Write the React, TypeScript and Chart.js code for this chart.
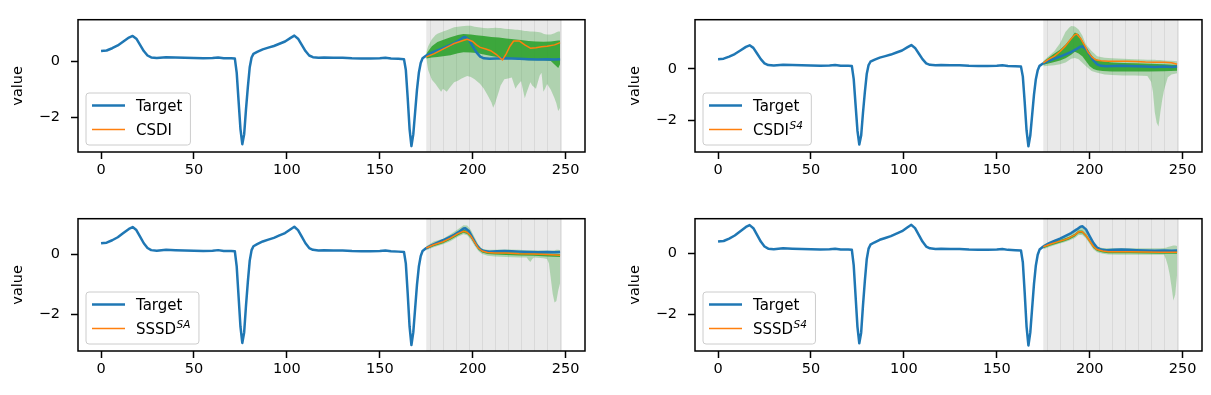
import React, { useEffect, useRef } from 'react';
import { Chart, registerables } from 'chart.js';

Chart.register(...registerables);
Chart.defaults.font.family = '"DejaVu Sans", sans-serif';
Chart.defaults.font.size = 14.5;
Chart.defaults.color = '#000';

// ---------- axes / tick data ----------
const X_TICKS = [0, 50, 100, 150, 200, 250];
const Y_TICKS = [-2, 0];
const SHADE_RANGE = [175, 248];
const SHADE_LINES = [177, 184, 191, 198, 205, 212, 219, 226, 233, 240, 247];

// ---------- target ECG (shared by all panels) ----------
const TARGET_X = [0, 3, 6, 9, 12, 15, 17, 19, 21, 23, 25, 27, 30, 35, 40, 45, 50, 55, 60, 63, 66, 70, 72, 73, 74, 75, 76, 77, 78, 79, 80, 81, 82, 84, 87, 90, 93, 96, 99, 102, 104, 106, 108, 110, 112, 114, 117, 120, 125, 130, 135, 140, 145, 150, 153, 156, 160, 163, 164, 165, 166, 167, 168, 169, 170, 171, 172, 173, 175, 178, 181, 184, 187, 190, 193, 195, 196, 198, 200, 202, 204, 206, 209, 213, 217, 221, 225, 230, 235, 240, 244, 247];
const TARGET_Y = [0.38, 0.4, 0.48, 0.58, 0.72, 0.86, 0.92, 0.82, 0.6, 0.38, 0.22, 0.15, 0.13, 0.16, 0.15, 0.14, 0.13, 0.12, 0.13, 0.15, 0.12, 0.12, 0.11, -0.4, -1.4, -2.4, -2.95, -2.6, -1.7, -0.9, -0.2, 0.15, 0.28, 0.35, 0.44, 0.5, 0.56, 0.64, 0.72, 0.85, 0.93, 0.82, 0.6, 0.38, 0.22, 0.16, 0.14, 0.15, 0.14, 0.14, 0.12, 0.11, 0.11, 0.12, 0.14, 0.11, 0.1, 0.09, -0.3, -1.3, -2.4, -3.02, -2.6, -1.8, -1.0, -0.4, -0.05, 0.12, 0.22, 0.32, 0.4, 0.48, 0.57, 0.66, 0.78, 0.87, 0.88, 0.78, 0.55, 0.33, 0.18, 0.12, 0.1, 0.11, 0.12, 0.11, 0.1, 0.09, 0.08, 0.09, 0.08, 0.09];

// ---------- CSDI (top-left) ----------
const CSDI_MED_X = [175, 179, 184, 188, 190, 194, 197, 200, 202, 204, 207, 210, 213, 216, 218, 220, 222, 225, 228, 231, 234, 237, 240, 244, 247];
const CSDI_MED_Y = [0.17, 0.28, 0.45, 0.58, 0.65, 0.74, 0.8, 0.72, 0.6, 0.51, 0.45, 0.38, 0.24, 0.06, 0.28, 0.55, 0.74, 0.74, 0.6, 0.48, 0.5, 0.53, 0.55, 0.6, 0.68];
const CSDI_IQR_X = [175, 178, 181, 185, 188, 192, 195, 199, 202, 206, 210, 214, 218, 222, 226, 230, 234, 238, 242, 244, 246, 247];
const CSDI_IQR_HI = [0.28, 0.55, 0.7, 0.8, 0.87, 0.95, 0.99, 0.97, 0.94, 0.92, 0.88, 0.86, 0.83, 0.8, 0.77, 0.74, 0.72, 0.71, 0.72, 0.74, 0.76, 0.76];
const CSDI_IQR_LO = [0.11, 0.15, 0.17, 0.2, 0.23, 0.3, 0.34, 0.33, 0.31, 0.26, 0.2, 0.16, 0.12, 0.1, 0.07, 0.05, 0.05, 0.05, 0.02, -0.1, -0.23, -0.08];
const CSDI_CI_X = [175, 176, 178, 180, 181, 183, 184, 186, 188, 190, 192, 194, 197, 199, 201, 204, 206, 208, 210, 211, 212, 214, 215, 217, 219, 221, 223, 224, 226, 228, 229, 231, 232, 234, 236, 237, 238, 239, 240, 242, 244, 245, 246, 247];
const CSDI_CI_HI = [0.34, 0.55, 0.8, 0.95, 1.0, 1.05, 1.08, 1.12, 1.18, 1.23, 1.25, 1.27, 1.28, 1.28, 1.25, 1.22, 1.2, 1.19, 1.2, 1.2, 1.21, 1.2, 1.2, 1.18, 1.17, 1.16, 1.14, 1.14, 1.12, 1.1, 1.1, 1.08, 1.08, 1.07, 1.05, 1.03, 1.0, 0.98, 0.97, 0.97, 1.02, 1.05, 1.08, 1.08];
const CSDI_CI_LO = [0.11, -0.3, -0.65, -0.8, -0.9, -1.08, -0.97, -1.08, -0.9, -0.74, -0.68, -0.6, -0.51, -0.55, -0.63, -0.8, -0.97, -1.2, -1.45, -1.65, -1.5, -1.08, -0.85, -0.63, -0.6, -0.57, -0.97, -0.85, -0.69, -1.31, -1.1, -0.74, -0.85, -0.97, -0.5, -0.4, -1.08, -0.95, -0.8, -1.0, -1.31, -1.5, -1.76, -1.65];

// ---------- CSDI^S4 (top-right) ----------
const CSDIS4_MED_X = [175, 178, 181, 184, 187, 190, 192, 193, 195, 197, 199, 201, 203, 206, 210, 215, 220, 225, 230, 235, 240, 244, 247];
const CSDIS4_MED_Y = [0.24, 0.38, 0.5, 0.68, 0.9, 1.18, 1.33, 1.36, 1.2, 0.95, 0.67, 0.48, 0.36, 0.32, 0.3, 0.3, 0.3, 0.29, 0.27, 0.26, 0.26, 0.24, 0.18];
const CSDIS4_IQR_X = [175, 180, 184, 187, 190, 192, 194, 196, 198, 200, 202, 204, 207, 212, 218, 225, 232, 240, 247];
const CSDIS4_IQR_HI = [0.28, 0.55, 0.75, 0.95, 1.22, 1.42, 1.35, 1.12, 0.85, 0.61, 0.45, 0.36, 0.3, 0.25, 0.23, 0.22, 0.2, 0.18, 0.15];
const CSDIS4_IQR_LO = [0.16, 0.25, 0.33, 0.42, 0.55, 0.67, 0.6, 0.49, 0.3, 0.1, 0.0, -0.05, -0.08, -0.1, -0.1, -0.1, -0.1, -0.09, -0.07];
const CSDIS4_CI_X = [175, 178, 181, 184, 187, 189, 190, 192, 194, 196, 198, 201, 204, 208, 212, 218, 224, 228, 231, 233, 234, 235, 236, 237, 238, 239, 240, 242, 244, 247];
const CSDIS4_CI_HI = [0.31, 0.5, 0.7, 1.0, 1.45, 1.62, 1.67, 1.65, 1.54, 1.3, 0.95, 0.7, 0.49, 0.44, 0.42, 0.4, 0.38, 0.37, 0.36, 0.36, 0.36, 0.36, 0.35, 0.35, 0.35, 0.34, 0.33, 0.32, 0.32, 0.3];
const CSDIS4_CI_LO = [0.1, 0.12, 0.14, 0.18, 0.25, 0.35, 0.4, 0.43, 0.38, 0.24, 0.1, -0.08, -0.15, -0.22, -0.24, -0.26, -0.26, -0.27, -0.28, -0.5, -0.9, -1.69, -2.1, -2.25, -1.69, -1.2, -0.82, -0.32, -0.22, -0.17];

// ---------- SSSD^SA (bottom-left) ----------
const SSSDSA_MED_X = [175, 179, 184, 188, 192, 195, 197, 199, 201, 203, 205, 208, 212, 218, 225, 233, 240, 247];
const SSSDSA_MED_Y = [0.22, 0.33, 0.43, 0.55, 0.7, 0.78, 0.75, 0.62, 0.42, 0.22, 0.12, 0.07, 0.05, 0.05, 0.03, 0.02, 0.0, -0.02];
const SSSDSA_IQR_HI = [0.25, 0.37, 0.47, 0.6, 0.75, 0.84, 0.8, 0.67, 0.47, 0.26, 0.16, 0.11, 0.09, 0.09, 0.07, 0.06, 0.04, 0.02];
const SSSDSA_IQR_LO = [0.18, 0.28, 0.38, 0.5, 0.64, 0.73, 0.69, 0.56, 0.36, 0.17, 0.07, 0.02, 0.0, -0.01, -0.03, -0.04, -0.06, -0.08];
const SSSDSA_CI_X = [175, 179, 184, 188, 192, 195, 197, 199, 201, 203, 205, 208, 212, 218, 225, 229, 230, 231, 232, 233, 238, 240, 241, 242, 243, 244, 245, 246, 247];
const SSSDSA_CI_HI = [0.28, 0.44, 0.53, 0.68, 0.85, 0.98, 0.97, 0.82, 0.58, 0.34, 0.2, 0.16, 0.16, 0.17, 0.16, 0.15, 0.15, 0.15, 0.15, 0.15, 0.14, 0.14, 0.14, 0.14, 0.14, 0.15, 0.16, 0.16, 0.15];
const SSSDSA_CI_LO = [0.15, 0.25, 0.35, 0.45, 0.6, 0.68, 0.65, 0.5, 0.3, 0.12, 0.02, -0.04, -0.06, -0.08, -0.1, -0.1, -0.18, -0.25, -0.15, -0.1, -0.12, -0.15, -0.3, -0.8, -1.3, -1.6, -1.55, -1.2, -0.95];

// ---------- SSSD^S4 (bottom-right) ----------
const SSSDS4_MED_X = [175, 179, 183, 186, 189, 192, 194, 196, 198, 200, 202, 204, 207, 210, 215, 222, 230, 238, 247];
const SSSDS4_MED_Y = [0.21, 0.3, 0.38, 0.43, 0.5, 0.6, 0.7, 0.7, 0.58, 0.4, 0.22, 0.12, 0.07, 0.05, 0.05, 0.05, 0.04, 0.03, 0.03];
const SSSDS4_IQR_HI = [0.25, 0.34, 0.42, 0.47, 0.54, 0.64, 0.74, 0.74, 0.62, 0.44, 0.26, 0.16, 0.11, 0.09, 0.09, 0.09, 0.08, 0.07, 0.07];
const SSSDS4_IQR_LO = [0.16, 0.25, 0.33, 0.38, 0.45, 0.55, 0.65, 0.65, 0.53, 0.35, 0.17, 0.07, 0.02, 0.0, 0.0, 0.0, -0.01, -0.02, -0.02];
const SSSDS4_CI_X = [175, 179, 183, 186, 189, 192, 194, 196, 198, 200, 202, 204, 207, 210, 215, 222, 230, 238, 240, 241, 242, 243, 244, 245, 246, 247];
const SSSDS4_CI_HI = [0.28, 0.4, 0.47, 0.52, 0.6, 0.72, 0.84, 0.86, 0.72, 0.52, 0.3, 0.2, 0.17, 0.16, 0.16, 0.16, 0.16, 0.16, 0.17, 0.18, 0.2, 0.22, 0.24, 0.25, 0.25, 0.24];
const SSSDS4_CI_LO = [0.13, 0.22, 0.3, 0.35, 0.42, 0.5, 0.6, 0.6, 0.48, 0.3, 0.12, 0.03, -0.02, -0.04, -0.05, -0.05, -0.05, -0.05, -0.05, -0.2, -0.4, -0.7, -1.1, -1.55, -1.35, -0.7];

// ---------- legend labels ----------
const METHOD_NAMES = ['CSDI', 'CSDI', 'SSSD', 'SSSD'];
const METHOD_SUPS = ['', 'S4', 'SA', 'S4'];
const Y_MIN = [-3.23, -3.24, -3.22, -3.2];
const Y_MAX = [1.5, 1.92, 1.2, 1.13];

const BLUE = '#1f77b4';
const ORANGE = '#ff7f0e';
const DARK_GREEN = 'rgba(44,160,44,0.88)';
const LIGHT_GREEN = 'rgba(44,160,44,0.3)';
const FONT = '"DejaVu Sans", sans-serif';
const AXIS_FONT = { family: FONT, size: 14.5, style: 'normal', weight: 'normal', lineHeight: 1.2 };

const pts = (xs: number[], ys: number[]) => xs.map((x, i) => ({ x, y: ys[i] }));

type PanelData = {
  med: { x: number; y: number }[];
  iqrHi: { x: number; y: number }[];
  iqrLo: { x: number; y: number }[];
  ciHi: { x: number; y: number }[];
  ciLo: { x: number; y: number }[];
};

const PANELS: PanelData[] = [
  {
    med: pts(CSDI_MED_X, CSDI_MED_Y),
    iqrHi: pts(CSDI_IQR_X, CSDI_IQR_HI),
    iqrLo: pts(CSDI_IQR_X, CSDI_IQR_LO),
    ciHi: pts(CSDI_CI_X, CSDI_CI_HI),
    ciLo: pts(CSDI_CI_X, CSDI_CI_LO),
  },
  {
    med: pts(CSDIS4_MED_X, CSDIS4_MED_Y),
    iqrHi: pts(CSDIS4_IQR_X, CSDIS4_IQR_HI),
    iqrLo: pts(CSDIS4_IQR_X, CSDIS4_IQR_LO),
    ciHi: pts(CSDIS4_CI_X, CSDIS4_CI_HI),
    ciLo: pts(CSDIS4_CI_X, CSDIS4_CI_LO),
  },
  {
    med: pts(SSSDSA_MED_X, SSSDSA_MED_Y),
    iqrHi: pts(SSSDSA_MED_X, SSSDSA_IQR_HI),
    iqrLo: pts(SSSDSA_MED_X, SSSDSA_IQR_LO),
    ciHi: pts(SSSDSA_CI_X, SSSDSA_CI_HI),
    ciLo: pts(SSSDSA_CI_X, SSSDSA_CI_LO),
  },
  {
    med: pts(SSSDS4_MED_X, SSSDS4_MED_Y),
    iqrHi: pts(SSSDS4_MED_X, SSSDS4_IQR_HI),
    iqrLo: pts(SSSDS4_MED_X, SSSDS4_IQR_LO),
    ciHi: pts(SSSDS4_CI_X, SSSDS4_CI_HI),
    ciLo: pts(SSSDS4_CI_X, SSSDS4_CI_LO),
  },
];

// canvas placement (layout only)
const CANVAS_POS = [
  { left: 0, top: 0, w: 594, h: 199 },
  { left: 617, top: 0, w: 594, h: 199 },
  { left: 0, top: 199, w: 594, h: 196 },
  { left: 617, top: 199, w: 594, h: 196 },
];
const AREA_TOP = 14;
const AREA_BOTTOM = 152;
const AXIS_W = 78;
const PAD_RIGHT = 9;

const shadePlugin = {
  id: 'shade',
  beforeDatasetsDraw(chart: any) {
    const { ctx, chartArea: ca, scales } = chart;
    const x = scales.x;
    const x0 = x.getPixelForValue(SHADE_RANGE[0]);
    const x1 = x.getPixelForValue(SHADE_RANGE[1]);
    ctx.save();
    ctx.fillStyle = '#e9e9e9';
    ctx.fillRect(x0, ca.top, x1 - x0, ca.bottom - ca.top);
    ctx.strokeStyle = '#d9d9d9';
    ctx.lineWidth = 1;
    for (const v of SHADE_LINES) {
      const p = Math.round(x.getPixelForValue(v)) + 0.5;
      ctx.beginPath();
      ctx.moveTo(p, ca.top);
      ctx.lineTo(p, ca.bottom);
      ctx.stroke();
    }
    ctx.restore();
  },
};

const frameLegendPlugin = {
  id: 'frameLegend',
  afterDatasetsDraw(chart: any, _args: any, opts: any) {
    const { ctx, chartArea: ca } = chart;
    ctx.save();
    const name: string = opts.name;
    const sup: string = opts.sup;
    const mainFont = `15px ${FONT}`;
    const supFont = `italic 10.5px ${FONT}`;
    ctx.font = mainFont;
    const wTarget = ctx.measureText('Target').width;
    const wName = ctx.measureText(name).width;
    ctx.font = supFont;
    const wSup = sup ? ctx.measureText(sup).width + 1 : 0;
    const textW = Math.max(wTarget, wName + wSup);
    const bx = ca.left + 8;
    const bh = 52;
    const by = ca.bottom - 7 - bh;
    const bw = 50 + textW + 8;
    const r = 3;
    ctx.beginPath();
    ctx.moveTo(bx + r, by);
    ctx.lineTo(bx + bw - r, by);
    ctx.quadraticCurveTo(bx + bw, by, bx + bw, by + r);
    ctx.lineTo(bx + bw, by + bh - r);
    ctx.quadraticCurveTo(bx + bw, by + bh, bx + bw - r, by + bh);
    ctx.lineTo(bx + r, by + bh);
    ctx.quadraticCurveTo(bx, by + bh, bx, by + bh - r);
    ctx.lineTo(bx, by + r);
    ctx.quadraticCurveTo(bx, by, bx + r, by);
    ctx.closePath();
    ctx.fillStyle = 'rgba(255,255,255,0.8)';
    ctx.fill();
    ctx.strokeStyle = '#cccccc';
    ctx.lineWidth = 1;
    ctx.stroke();

    const y1 = by + 12.5;
    const y2 = by + 36.5;
    ctx.lineCap = 'butt';
    ctx.strokeStyle = BLUE;
    ctx.lineWidth = 2.5;
    ctx.beginPath();
    ctx.moveTo(bx + 6, y1);
    ctx.lineTo(bx + 39, y1);
    ctx.stroke();
    ctx.strokeStyle = ORANGE;
    ctx.lineWidth = 1.5;
    ctx.beginPath();
    ctx.moveTo(bx + 6, y2);
    ctx.lineTo(bx + 39, y2);
    ctx.stroke();

    ctx.fillStyle = '#000';
    ctx.textBaseline = 'alphabetic';
    ctx.textAlign = 'left';
    ctx.font = mainFont;
    ctx.fillText('Target', bx + 50, y1 + 5.5);
    ctx.fillText(name, bx + 50, y2 + 5.5);
    if (sup) {
      ctx.font = supFont;
      ctx.fillText(sup, bx + 50 + wName + 0.5, y2 + 5.5 - 6);
    }

    ctx.strokeStyle = '#000';
    ctx.lineWidth = 1.5;
    ctx.strokeRect(ca.left, ca.top, ca.right - ca.left, ca.bottom - ca.top);
    ctx.restore();
  },
};

function Panel({ idx }: { idx: number }) {
  const ref = useRef<HTMLCanvasElement | null>(null);
  const pos = CANVAS_POS[idx];
  useEffect(() => {
    if (!ref.current) return;
    const d = PANELS[idx];
    const xH = pos.h - AREA_BOTTOM;
    const tickGrid = {
      display: true,
      drawOnChartArea: false,
      drawTicks: true,
      tickLength: 7,
      tickWidth: 1.5,
      tickColor: '#000',
    };
    const line = (data: any, color: string, width: number, fill: any, bg?: string) => ({
      data,
      borderColor: color,
      borderWidth: width,
      borderJoinStyle: 'round',
      backgroundColor: bg || 'transparent',
      pointRadius: 0,
      pointHoverRadius: 0,
      tension: 0,
      fill,
    });
    const chart = new Chart(ref.current, {
      type: 'line',
      data: {
        datasets: [
          line(d.med, ORANGE, 1.5, false),
          line(pts(TARGET_X, TARGET_Y), BLUE, 2.5, false),
          line(d.iqrHi, 'transparent', 0, '+1', DARK_GREEN),
          line(d.iqrLo, 'transparent', 0, false),
          line(d.ciHi, 'transparent', 0, '+1', LIGHT_GREEN),
          line(d.ciLo, 'transparent', 0, false),
        ] as any,
      },
      options: {
        responsive: false,
        animation: false,
        devicePixelRatio: 1,
        events: [],
        font: AXIS_FONT,
        layout: { padding: { top: AREA_TOP, right: PAD_RIGHT, left: 0, bottom: 0 } },
        plugins: {
          legend: { display: false },
          tooltip: { enabled: false },
          frameLegend: { name: METHOD_NAMES[idx], sup: METHOD_SUPS[idx] },
        } as any,
        scales: {
          x: {
            type: 'linear',
            min: -12.4,
            max: 260.4,
            afterBuildTicks: (s: any) => {
              s.ticks = X_TICKS.map((v) => ({ value: v }));
            },
            afterFit: (s: any) => {
              s.height = xH;
            },
            border: { display: false },
            grid: tickGrid,
            ticks: {
              color: '#000',
              font: AXIS_FONT,
              padding: 3,
              maxRotation: 0,
              autoSkip: false,
              callback: (v: any) => String(v),
            },
          },
          y: {
            type: 'linear',
            min: Y_MIN[idx],
            max: Y_MAX[idx],
            afterBuildTicks: (s: any) => {
              s.ticks = Y_TICKS.map((v) => ({ value: v }));
            },
            afterFit: (s: any) => {
              s.width = AXIS_W;
            },
            border: { display: false },
            grid: tickGrid,
            ticks: {
              color: '#000',
              font: AXIS_FONT,
              padding: 11,
              callback: (v: any) => (v < 0 ? '\u2212' + Math.abs(v) : String(v)),
            },
            title: {
              display: true,
              text: 'value',
              color: '#000',
              font: AXIS_FONT,
              padding: { top: 10, bottom: 0 },
            },
          },
        } as any,
      } as any,
      plugins: [shadePlugin, frameLegendPlugin],
    });
    return () => chart.destroy();
  }, [idx]);
  return (
    <canvas
      ref={ref}
      width={pos.w}
      height={pos.h}
      style={{ position: 'absolute', left: pos.left, top: pos.top, width: pos.w, height: pos.h }}
    />
  );
}

export default function App() {
  return (
    <div
      style={{
        position: 'fixed',
        left: 0,
        top: 0,
        width: 1211,
        height: 395,
        background: '#fff',
        overflow: 'hidden',
      }}
    >
      {[0, 1, 2, 3].map((i) => (
        <Panel key={i} idx={i} />
      ))}
    </div>
  );
}
